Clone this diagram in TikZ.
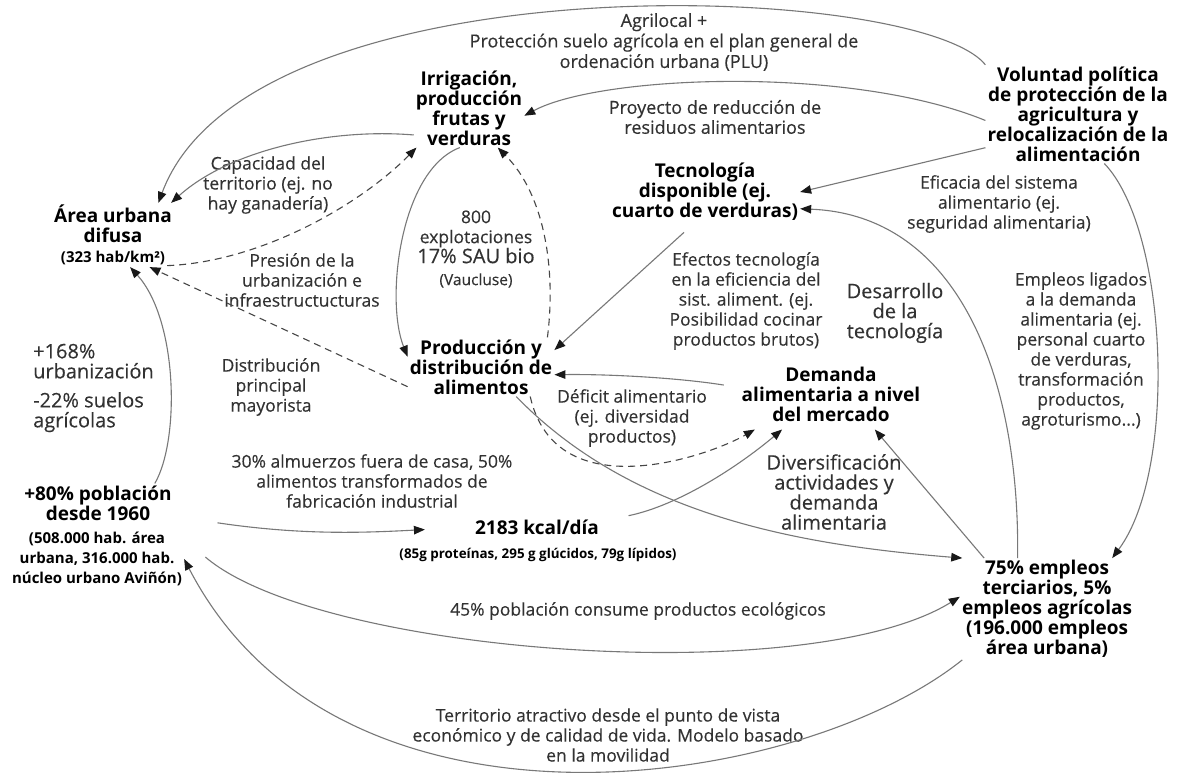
\documentclass[tikz,border=0pt]{standalone}
\usepackage{fontspec}
\setmainfont{Open Sans}
\newfontfamily\lblfont{Open Sans}[FakeBold=0.25]
\usepackage{tikz}
\usetikzlibrary{arrows.meta,positioning}
\definecolor{linegray}{RGB}{120,120,120}
\definecolor{dashgray}{RGB}{70,70,70}
\definecolor{tipdark}{RGB}{25,25,25}
\definecolor{txtgray}{RGB}{50,50,50}

\begin{document}
\begin{tikzpicture}[
  x=1pt, y=-1pt,
  concept/.style={font=\fontsize{19}{20}\selectfont\bfseries, align=center,
                  inner sep=2pt},
  subt/.style={font=\fontsize{15}{20}\selectfont\bfseries, align=center,
               inner sep=2pt},
  lbl/.style={font=\lblfont\fontsize{17.5}{20}\selectfont, text=txtgray,
              align=center, inner sep=1pt},
  lblbig/.style={font=\lblfont\fontsize{20}{20}\selectfont},
  arrow/.style={-{Triangle[length=11pt,width=8.5pt,color=tipdark]},
                linegray, line width=1.1pt},
  dasharrow/.style={arrow, dashgray, dash pattern=on 7pt off 5pt},
]
\fill[white] (0,0) rectangle (1177,773);
\useasboundingbox (0,0) rectangle (1177,773);

%% Concepts
\node[concept] (vol)  at (1078,114) {Voluntad política\\de protección de la\\agricultura y\\relocalización de la\\alimentación};
\node[concept] (irr)  at (469,108)  {Irrigación,\\producción\\frutas y\\verduras};
\node[concept] (area) at (113,224)  {Área urbana\\difusa};
\node[subt]    (areax) at (113,258) {(323 hab/km²)};
\node[concept] (tec)  at (705,192)  {Tecnología\\disponible (ej.\\cuarto de verduras)};
\node[concept] (prod) at (481,367)  {Producción y\\distribución de\\alimentos};
\node[concept, inner ysep=8pt] (dem) at (831,394) {Demanda\\alimentaria a nivel\\del mercado};
\node[concept] (pop)  at (98,503)   {+80\% población\\desde 1960};
\node[subt]    (popx) at (97,559)   {(508.000 hab. área\\urbana, 316.000 hab.\\núcleo urbano Aviñón)};
\node[concept] (kcal) at (537,527)  {2183 kcal/día};
\node[subt, font=\fontsize{13.4}{16}\selectfont\bfseries] (kcalx) at (538,555)
  {(85g proteínas, 295 g glúcidos, 79g lípidos)};
\node[concept] (emp)  at (1047,609) {75\% empleos\\terciarios, 5\%\\empleos agrícolas\\(196.000 empleos\\área urbana)};

%% Labels
\node[lbl, font=\lblfont\fontsize{18}{20.5}\selectfont] (lagri) at (664,42)
  {Agrilocal +\\Protección suelo agrícola en el plan general de\\ordenación urbana (PLU)};
\node[lbl, font=\lblfont\fontsize{18}{20}\selectfont] (lres) at (715,117)
  {Proyecto de reducción de\\residuos alimentarios};
\node[lbl] (lefi) at (999,204) {Eficacia del sistema\\alimentario (ej.\\seguridad alimentaria)};
\node[lbl] (lemp) at (1081,351)
  {Empleos ligados\\a la demanda\\alimentaria (ej.\\personal cuarto\\de verduras,\\transformación\\productos,\\agroturismo...)};
\node[lbl] (lcap) at (268,185) {Capacidad del\\territorio (ej. no\\hay ganadería)};
\node[lbl] (lexp) at (476,249)
  {800\\explotaciones\\{\fontsize{20}{20}\selectfont 17\% SAU bio}\\[2pt]{\fontsize{15.5}{18}\selectfont (Vaucluse)}};
\node[lbl] (lpre) at (302,280) {Presión de la\\urbanización e\\infraestructucturas};
\node[lbl, lblbig, align=left, anchor=west] (lurb) at (32,388)
  {+168\%\\urbanización\\[9pt]-22\% suelos\\agrícolas};
\node[lbl] (ldis) at (271,387) {Distribución\\principal\\mayorista};
\node[lbl] (lalm) at (372,481)
  {30\% almuerzos fuera de casa, 50\%\\alimentos transformados de\\fabricación industrial};
\node[lbl] (lefe) at (746,301)
  {Efectos tecnología\\en la eficiencia del\\sist. aliment. (ej.\\Posibilidad cocinar\\productos brutos)};
\node[lbl, lblbig] (ldes) at (895,313) {Desarrollo\\de la\\tecnología};
\node[lbl] (ldef) at (632,418) {Déficit alimentario\\(ej. diversidad\\productos)};
\node[lbl, lblbig] (ldiv) at (834,492) {Diversificación\\actividades y\\demanda\\alimentaria};
\node[lbl] (leco) at (638,611) {45\% población consume productos ecológicos};
\node[lbl] (lter) at (608,735)
  {Territorio atractivo desde el punto de vista\\económico y de calidad de vida. Modelo basado\\en la movilidad};

%% Connectors
\draw[arrow] (vol.152) .. controls (918,-19) and (250,-43) .. (area.25);
\draw[arrow] (vol.184) .. controls (850,65) and (600,75) .. (irr.-8);
\draw[arrow] (vol.200) -- (tec.east);
\draw[arrow] (vol.-62) .. controls (1168,230) and (1178,470) .. (emp.38);

\draw[arrow] (irr.206) .. controls (330,128) and (230,150) .. (area.20);
\draw[dasharrow] (areax.-8) .. controls (260,262) and (360,205) .. (irr.217);
\draw[arrow] (irr.257) .. controls (400,170) and (385,300) .. (prod.172);
\draw[dasharrow] (prod.24) .. controls (556,270) and (545,195) .. (irr.-54);
\draw[dasharrow] (prod.195) -- (areax.-14);
\draw[arrow] (pop.19) .. controls (180,440) and (178,320) .. (areax.-28);

\draw[arrow, shorten <=44pt, shorten >=48pt] (pop.-10) .. controls (300,535) and (360,533) .. (kcal.west);
\draw[arrow, shorten <=28pt] (kcal.5) .. controls (680,505) and (740,465) .. (dem.216);
\draw[arrow, shorten <=14pt] (tec.251) -- (prod.13);
\draw[arrow, shorten <=16pt] (dem.176) .. controls (680,378) and (610,374) .. (prod.-6);
\draw[dasharrow] (prod.-31) .. controls (556,510) and (709,456) .. (dem.205);
\draw[arrow] (prod.-40) .. controls (632,516) and (800,545) .. (emp.149);

\draw[arrow, shorten <=28pt] (popx.13) .. controls (320,655) and (810,690) .. (emp.172);
\draw[arrow] (emp.211) .. controls (800,790) and (340,860) .. (popx.east);
\draw[arrow] (emp.120) .. controls (1020,380) and (960,215) .. (tec.-10);
\draw[arrow] (emp.141) -- (dem.-39);

\end{tikzpicture}
\end{document}
